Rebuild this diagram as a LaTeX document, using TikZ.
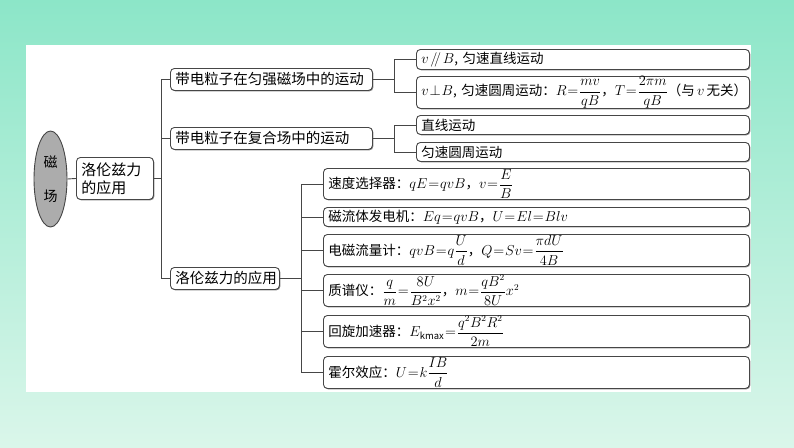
\documentclass[tikz,border=0pt]{standalone}
\usepackage{amsmath}
\usepackage{fontspec}
\setmainfont{Noto Sans CJK SC}
\usetikzlibrary{shadows,shapes.geometric}
\definecolor{bgtop}{RGB}{140,230,200}
\definecolor{bgmid}{RGB}{185,240,220}
\definecolor{bgbot}{RGB}{218,246,234}
\definecolor{linec}{RGB}{70,70,70}
\definecolor{ellfill}{RGB}{172,172,172}
\AtBeginDocument{\thickmuskip=1mu\medmuskip=1mu\thinmuskip=2mu}
\begin{document}
\begin{tikzpicture}[x=1pt,y=-1pt,
  font=\fontsize{13.5}{16}\selectfont,
  box/.style={draw=linec, line width=0.9pt, rounded corners=4pt, fill=white,
    drop shadow={shadow xshift=0.9pt, shadow yshift=-0.9pt, fill=black!60, opacity=0.8},
    anchor=north west, align=left, inner xsep=5pt, inner ysep=0pt},
  conn/.style={draw=linec, line width=0.9pt}]
% background
\shade[top color=bgtop, middle color=bgmid, bottom color=bgbot] (0,0) rectangle (794,447);
\useasboundingbox (0,0) rectangle (794,447);
\fill[white] (26,45) rectangle (751,392);
% root ellipse
\node[ellipse, draw=linec, line width=0.9pt, fill=ellfill, minimum width=33pt, minimum height=96pt, inner sep=0pt, align=center, font=\fontsize{14}{16}\selectfont] (E) at (50.5,179) {磁\\[18pt]场};
\node[box, text width=67pt, minimum height=42pt, font=\fontsize{15}{18}\selectfont] (L) at (76,157) {洛伦兹力\\的应用};
% level 2
\node[box, text width=192pt, minimum height=22pt, font=\fontsize{14.5}{17}\selectfont] (A) at (170,68) {带电粒子在匀强磁场中的运动};
\node[box, text width=192pt, minimum height=22pt, font=\fontsize{14.5}{17}\selectfont] (B) at (170,127) {带电粒子在复合场中的运动};
\node[box, text width=99pt, minimum height=22pt, font=\fontsize{14.5}{17}\selectfont] (C) at (170,267) {洛伦兹力的应用};
% leaves A
\node[box, text width=323pt, minimum height=20pt] (A1) at (416,49) {\mbox{$v\,/\!\!/\,B$, 匀速直线运动}};
\node[box, text width=323pt, minimum height=32pt] (A2) at (416,76) {\mbox{$v\perp B$, 匀速圆周运动：$R=\dfrac{mv}{qB}$，$T=\dfrac{2\pi m}{qB}$（与\,$v$\,无关）}};
% leaves B
\node[box, text width=323pt, minimum height=19pt] (B1) at (416,115) {直线运动};
\node[box, text width=323pt, minimum height=19pt] (B2) at (416,142) {匀速圆周运动};
% leaves C
\node[box, text width=416pt, minimum height=31pt] (C1) at (323,168) {\mbox{速度选择器：$qE=qvB$，$v=\dfrac{E}{B}$}};
\node[box, text width=416pt, minimum height=19pt] (C2) at (323,207) {\mbox{磁流体发电机：$Eq=qvB$，$U=El=Blv$}};
\node[box, text width=416pt, minimum height=32pt] (C3) at (323,234) {\mbox{电磁流量计：$qvB=q\dfrac{U}{d}$，$Q=Sv=\dfrac{\pi dU}{4B}$}};
\node[box, text width=416pt, minimum height=32pt] (C4) at (323,274) {\mbox{质谱仪：$\dfrac{q}{m}=\dfrac{8U}{B^2x^2}$，$m=\dfrac{qB^2}{8U}x^2$}};
\node[box, text width=416pt, minimum height=32pt] (C5) at (323,315) {\mbox{回旋加速器：$E_{\mathrm{kmax}}=\dfrac{q^2B^2R^2}{2m}$}};
\node[box, text width=416pt, minimum height=32pt] (C6) at (323,356) {\mbox{霍尔效应：$U=k\dfrac{IB}{d}$}};
% connectors
\draw[conn] (E.east) -- (L.west);
\draw[conn] (L.east) -- ++(8,0) coordinate (t);
\draw[conn] (t) |- (A.west);
\draw[conn] (t) |- (B.west);
\draw[conn] (t) |- (C.west);
\draw[conn] (A.east) -- ++(22,0) coordinate (ta);
\draw[conn] (ta) |- (A1.west);
\draw[conn] (ta) |- (A2.west);
\draw[conn] (B.east) -- ++(22,0) coordinate (tb);
\draw[conn] (tb) |- (B1.west);
\draw[conn] (tb) |- (B2.west);
\draw[conn] (C.east) -- ++(22,0) coordinate (tc);
\draw[conn] (tc) |- (C1.west);
\draw[conn] (tc) |- (C2.west);
\draw[conn] (tc) |- (C3.west);
\draw[conn] (tc) |- (C4.west);
\draw[conn] (tc) |- (C5.west);
\draw[conn] (tc) |- (C6.west);
\end{tikzpicture}
\end{document}
